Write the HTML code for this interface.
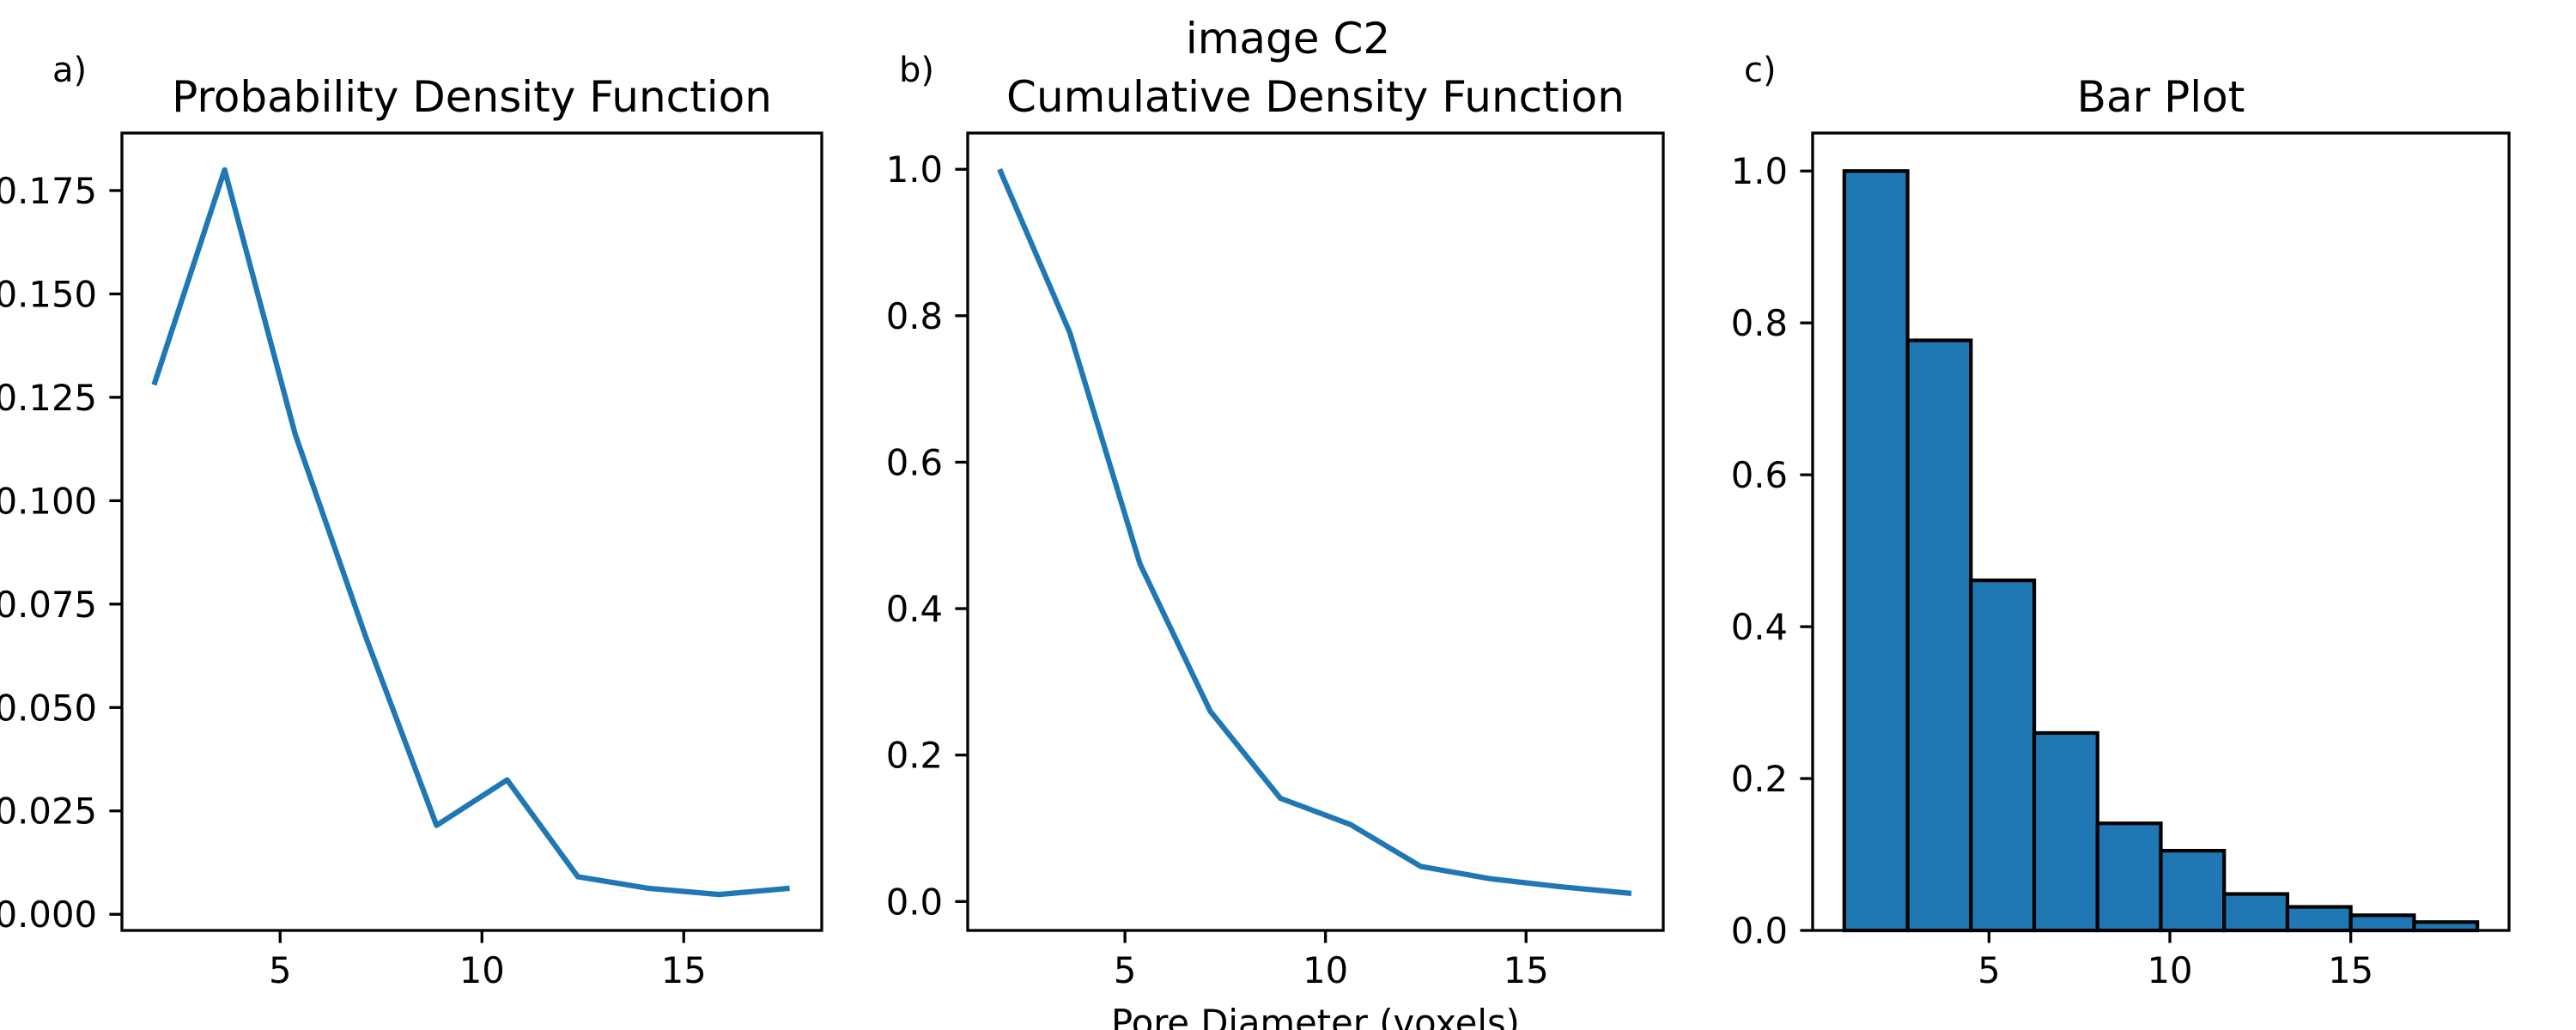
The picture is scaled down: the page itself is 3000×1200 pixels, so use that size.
<!DOCTYPE html>
<html><head><meta charset="utf-8"><style>
html,body{margin:0;padding:0;background:#fff;width:3000px;height:1200px;overflow:hidden}
svg{display:block;font-family:"DejaVu Sans","Liberation Sans",sans-serif}
</style></head><body>
<svg id="fig" width="3000" height="1200" viewBox="0 0 3000 1200" xmlns="http://www.w3.org/2000/svg">
<rect width="3000" height="1200" fill="#fff"/>
<text x="1500" y="62" font-size="50" text-anchor="middle">image C2</text>
<text x="61" y="95" font-size="40">a)</text>
<text x="1047" y="95" font-size="40">b)</text>
<text x="2031" y="95" font-size="40">c)</text>
<text x="1532" y="1206" font-size="41.7" text-anchor="middle">Pore Diameter (voxels)</text>
</svg>
<script>
// data
const diameters = [1.875, 3.625, 5.375, 7.125, 8.875, 10.625, 12.375, 14.125, 15.875, 17.625];
const pdfValues = [0.128, 0.180, 0.116, 0.067, 0.0215, 0.0325, 0.0091, 0.0063, 0.0048, 0.0063];
const cdfValues = [1.0, 0.777, 0.461, 0.260, 0.141, 0.105, 0.048, 0.031, 0.020, 0.011];
const barHeights = [1.0, 0.777, 0.461, 0.260, 0.141, 0.105, 0.048, 0.031, 0.020, 0.011];
const binWidth = 1.75;
const pdfYTicks = [0, 0.025, 0.05, 0.075, 0.1, 0.125, 0.15, 0.175];
const pdfYTickLabels = ["0.000","0.025","0.050","0.075","0.100","0.125","0.150","0.175"];
const cdfYTicks = [0, 0.2, 0.4, 0.6, 0.8, 1.0];
const cdfYTickLabels = ["0.0","0.2","0.4","0.6","0.8","1.0"];
const xTicks = [5, 10, 15];
const xTickLabels = ["5","10","15"];

const NS = "http://www.w3.org/2000/svg";
const svg = document.getElementById('fig');
function mk(tag, attrs, parent){
  const e = document.createElementNS(NS, tag);
  for (const k in attrs) e.setAttribute(k, attrs[k]);
  (parent||svg).appendChild(e);
  return e;
}
const BLUE = "#1f77b4";
const TOP = 155, BOT = 1084;

function makeAxes(name, left, right, xmin, xmax, ymin, ymax){
  const g = mk('g', {});
  
  
  const sx = v => left + (v - xmin) / (xmax - xmin) * (right - left);
  const sy = v => BOT - (v - ymin) / (ymax - ymin) * (BOT - TOP);
  return {g, sx, sy, left, right};
}
function finishAxes(ax, yTicks, yLabels, title){
  const {g, sx, sy, left, right} = ax;
  const frame = mk('rect', {x:left, y:TOP, width:right-left, height:BOT-TOP, fill:'none', stroke:'#000', 'stroke-width':3.3}, g);
  
  
  yTicks.forEach((t, i) => {
    const y = sy(t);
    const tk = mk('line', {x1:left, x2:left-14.6, y1:y, y2:y, stroke:'#000', 'stroke-width':3.3}, g);
    
    
    const tl = mk('text', {x:left-29, y:y+15, 'font-size':41.7, 'text-anchor':'end'}, g);
    
    
    tl.textContent = yLabels[i];
  });
  xTicks.forEach((t, i) => {
    const x = sx(t);
    const tk = mk('line', {x1:x, x2:x, y1:BOT, y2:BOT+14.6, stroke:'#000', 'stroke-width':3.3}, g);
    
    
    const tl = mk('text', {x:x, y:1145, 'font-size':41.7, 'text-anchor':'middle'}, g);
    
    
    tl.textContent = xTickLabels[i];
  });
  const tt = mk('text', {x:(left+right)/2, y:130, 'font-size':50, 'text-anchor':'middle'}, g);
  
  
  tt.textContent = title;
}
function drawLine(ax, xs, ys, name){
  const pts = xs.map((x, i) => ax.sx(x).toFixed(1) + ',' + ax.sy(ys[i]).toFixed(1)).join(' ');
  const pl = mk('polyline', {points:pts, fill:'none', stroke:BLUE, 'stroke-width':6.25, 'stroke-linejoin':'round', 'stroke-linecap':'butt'}, ax.g);
  
  
}

// Panel a
const xlo = 1.08, xhi = 18.42;
const axA = makeAxes('pdf-axes', 142, 957, xlo, xhi, -0.0039, 0.1889);
drawLine(axA, diameters, pdfValues, 'pdf-line');
finishAxes(axA, pdfYTicks, pdfYTickLabels, 'Probability Density Function');

// Panel b
const axB = makeAxes('cdf-axes', 1127, 1937, xlo, xhi, -0.0395, 1.0495);
drawLine(axB, diameters, cdfValues, 'cdf-line');
finishAxes(axB, cdfYTicks, cdfYTickLabels, 'Cumulative Density Function');

// Panel c
const axC = makeAxes('bar-axes', 2111, 2922, 0.125, 19.375, 0, 1.05);
barHeights.forEach((h, i) => {
  const x0 = axC.sx(diameters[i] - binWidth/2), x1 = axC.sx(diameters[i] + binWidth/2);
  const y = axC.sy(h), y0 = axC.sy(0);
  const r = mk('rect', {x:x0, y:y, width:x1-x0, height:y0-y, fill:BLUE, stroke:'#000', 'stroke-width':4.2}, axC.g);
  
  
});
finishAxes(axC, cdfYTicks, cdfYTickLabels, 'Bar Plot');
</script>
</body></html>
